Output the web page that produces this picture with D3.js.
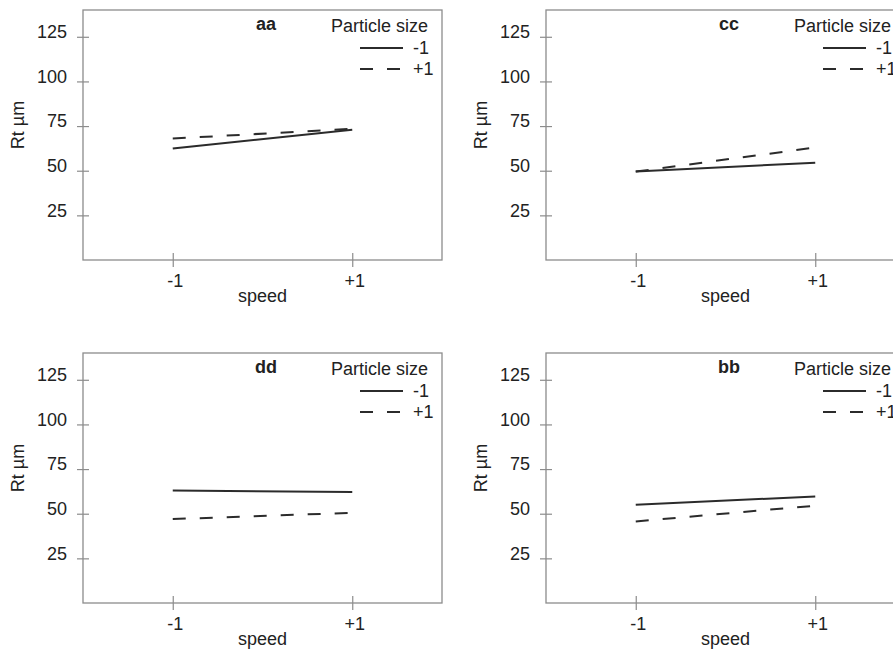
<!DOCTYPE html>
<html>
<head>
<meta charset="utf-8">
<script src="https://cdn.jsdelivr.net/npm/d3@7"></script>
<style>
  body { margin: 0; background: #fff; }
  svg text { font-family: "Liberation Sans", Arial, sans-serif; fill: #222; }
</style>
</head>
<body>
<svg id="chart" width="893" height="650"></svg>
<script>
// factor levels
const speedLevels = [-1, 1];
const speedLabels = ['-1', '+1'];
const sizeLevels = ['-1', '+1'];
const rtTicks = [25, 50, 75, 100, 125];

// mean Rt (µm) at speed -1 / +1, one array per particle size level
const aaSizeLow = [62.5, 73];
const aaSizeHigh = [68, 73.5];
const ccSizeLow = [49.5, 54.5];
const ccSizeHigh = [49.5, 63];
const ddSizeLow = [63, 62.2];
const ddSizeHigh = [47, 50.5];
const bbSizeLow = [55, 59.7];
const bbSizeHigh = [45.7, 54.5];

const panels = [
  { name: 'aa', series: [aaSizeLow, aaSizeHigh], left: 83, top: 10 },
  { name: 'cc', series: [ccSizeLow, ccSizeHigh], left: 546, top: 10 },
  { name: 'dd', series: [ddSizeLow, ddSizeHigh], left: 83, top: 353 },
  { name: 'bb', series: [bbSizeLow, bbSizeHigh], left: 546, top: 353 },
];

const w = 359, h = 250;
const dashes = [null, '13,14'];
const ink = '#2b2b2b', frame = '#8c8c8c';

const svg = d3.select('#chart');

const x = d3.scaleLinear().domain([-2, 2]).range([0, w]);
const y = d3.scaleLinear().domain([0, 140]).range([h, 0]);

const line = d3.line()
    .x((d, i) => x(speedLevels[i]))
    .y(d => y(d));

panels.forEach(p => {
  const g = svg.append('g').attr('transform', `translate(${p.left},${p.top})`);

  g.append('rect')
      .attr('width', w)
      .attr('height', h)
      .attr('fill', 'none')
      .attr('stroke', frame)
      .attr('stroke-width', 1.3);

  // y axis, ticks cross the frame
  const ya = g.append('g')
      .call(d3.axisLeft(y).tickValues(rtTicks).tickSize(6).tickPadding(10));
  ya.select('.domain').remove();
  ya.selectAll('line').attr('x1', 6).attr('stroke', frame).attr('stroke-width', 1.2);
  ya.selectAll('text').attr('font-size', 18).attr('dy', '0.05em');

  const xa = g.append('g')
      .attr('transform', `translate(0,${h})`)
      .call(d3.axisBottom(x).tickValues(speedLevels).tickFormat((d, i) => speedLabels[i]).tickSize(7));
  xa.select('.domain').remove();
  xa.selectAll('line').attr('y1', -7).attr('stroke', frame).attr('stroke-width', 1.2);
  xa.selectAll('text').attr('font-size', 18).attr('y', 27).attr('dy', 0).attr('dx', 2);

  g.append('text')
      .attr('x', w / 2)
      .attr('y', h + 42)
      .attr('text-anchor', 'middle')
      .attr('font-size', 18)
      .text('speed');

  g.append('text')
      .attr('transform', `translate(-59,115) rotate(-90)`)
      .attr('text-anchor', 'middle')
      .attr('font-size', 18)
      .text('Rt µm');

  g.selectAll('path.series')
    .data(p.series)
    .join('path')
      .classed('series', true)
      .attr('d', line)
      .attr('fill', 'none')
      .attr('stroke', ink)
      .attr('stroke-width', 2)
      .attr('stroke-dasharray', (d, i) => dashes[i]);

  g.append('text')
      .attr('x', 183)
      .attr('y', 20)
      .attr('text-anchor', 'middle')
      .attr('font-size', 18)
      .attr('font-weight', 'bold')
      .text(p.name);

  // legend
  const lg = g.append('g');
  lg.append('text')
      .attr('x', 345)
      .attr('y', 22)
      .attr('text-anchor', 'end')
      .attr('font-size', 18)
      .text('Particle size');

  const items = lg.selectAll('g.item')
    .data(sizeLevels)
    .join('g')
      .classed('item', true)
      .attr('transform', (d, i) => `translate(0,${38 + i * 21})`);

  items.append('line')
      .attr('x1', 277)
      .attr('x2', 320)
      .attr('stroke', ink)
      .attr('stroke-width', 2)
      .attr('stroke-dasharray', (d, i) => dashes[i]);

  items.append('text')
      .attr('x', 330)
      .attr('y', 6)
      .attr('font-size', 18)
      .text(d => d);
});
</script>
</body>
</html>
